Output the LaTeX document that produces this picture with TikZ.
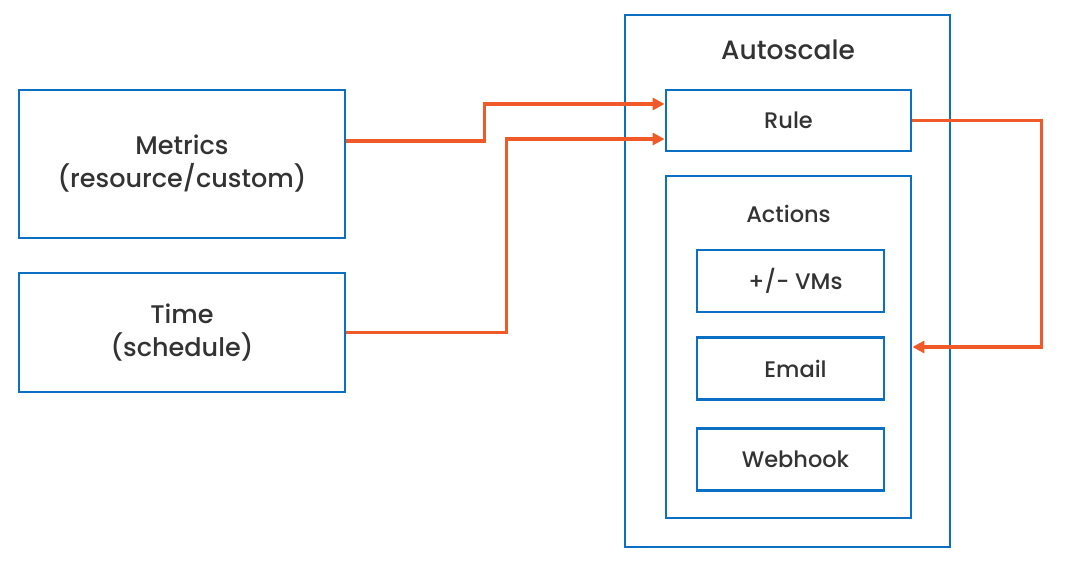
\documentclass[tikz,border=0pt]{standalone}
\usepackage{fontspec}
\setmainfont{Poppins Medium}
\usetikzlibrary{arrows.meta, positioning, calc}
\definecolor{boxblue}{HTML}{0B6FC3}
\definecolor{flow}{HTML}{F05A28}
\definecolor{ink}{HTML}{333333}
\tikzset{every node/.style={font=\fontsize{25.5}{33}\selectfont, text=ink}}

\begin{document}
\begin{tikzpicture}[x=1pt, y=-1pt]
  \tikzstyle{source} = [rectangle, draw=boxblue, line width=2.8pt, minimum width=326pt, minimum height=148pt, align=center]
  \tikzstyle{frame} = [rectangle, draw=boxblue, line width=2.8pt]
  \tikzstyle{action} = [rectangle, draw=boxblue, line width=2.8pt, minimum width=187pt, minimum height=62pt, font=\fontsize{22.5}{24}\selectfont]
  \tikzstyle{arrow} = [draw=flow, line width=3.5pt, -{Triangle[length=12pt, width=12pt]}]
  \useasboundingbox (0,0) rectangle (1070,561);
  \node (metrics) [source] at (182,164) {Metrics\\(resource/custom)};
  \node (time) [source, minimum height=119pt] at (182,332.5) {Time\\(schedule)};
  \node (autoscale) [frame, minimum width=325pt, minimum height=532pt] at (787.5,281) {};
  \node (title) [font=\fontsize{26.5}{30}\selectfont] at (788,50) {Autoscale};
  \node (rule) [frame, minimum width=245pt, minimum height=61pt, font=\fontsize{22.5}{24}\selectfont] at (788.5,120.5) {Rule};
  \node (actions) [frame, minimum width=245pt, minimum height=342pt] at (788.5,347) {};
  \node (actlabel) [font=\fontsize{22.5}{24}\selectfont] at (788.5,214) {Actions};
  \node (vms) [action] at (790.5,281) {\hspace{10pt}+/- VMs};
  \node (email) [action, below=23pt of vms] {\hspace{10pt}Email};
  \node (webhook) [action, below=26pt of email] {\hspace{10pt}Webhook};
  \draw [arrow] ([yshift=23pt]metrics.east) -- ++(138,0) |- ([yshift=16.5pt]rule.west);
  \draw [arrow] (time.east) -- ++(160,0) |- ([yshift=-18.5pt]rule.west);
  \draw [arrow] (rule.east) -- ++(129,0) |- (actions.east);
\end{tikzpicture}
\end{document}
